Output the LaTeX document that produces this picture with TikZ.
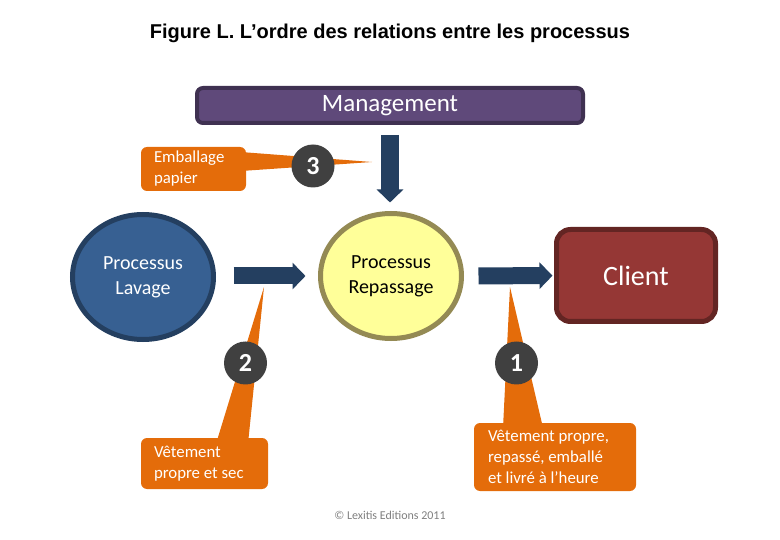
\documentclass[tikz,border=0pt]{standalone}
\usepackage{fontspec}
\setmainfont{Carlito}
\newfontfamily\titlefont{Liberation Sans}
\usetikzlibrary{shapes.geometric, arrows.meta, calc}

\definecolor{mgmtfill}{HTML}{5F497A}
\definecolor{mgmtline}{HTML}{3F3151}
\definecolor{lavfill}{HTML}{376092}
\definecolor{navy}{HTML}{243F60}
\definecolor{repfill}{HTML}{FFFF99}
\definecolor{repline}{HTML}{948A54}
\definecolor{clifill}{HTML}{953735}
\definecolor{cliline}{HTML}{632523}
\definecolor{orangecall}{HTML}{E46C0A}
\definecolor{numgray}{HTML}{404040}
\definecolor{footgray}{HTML}{7F7F7F}

\begin{document}
\begin{tikzpicture}[
    x=1pt, y=-1pt,
    proc/.style={ellipse, line width=5pt, minimum width=141pt, minimum height=125pt, align=center, font=\fontsize{20}{25}\selectfont},
    bubble/.style={rectangle, rounded corners=6pt, fill=orangecall, text=white, align=flush left, inner xsep=13pt, inner ysep=4pt, font=\fontsize{16.8}{21}\selectfont},
    num/.style={circle, fill=numgray, text=white, minimum size=43pt, inner sep=0pt, font=\bfseries\fontsize{26}{26}\selectfont},
    arrow/.style={-{Triangle[width=26pt, length=13pt]}, line width=17pt, navy},
    pointer/.style={fill=orangecall}
]
    \useasboundingbox (0,0) rectangle (780,540);
    \node[font=\titlefont\bfseries\fontsize{20}{24}\selectfont] (title) at (390,33) {Figure L. L’ordre des relations entre les processus};

    \node[rectangle, rounded corners=6pt, draw=mgmtline, line width=4pt, fill=mgmtfill, text=white, minimum width=386pt, minimum height=35pt, font=\fontsize{25}{30}\selectfont] (mgmt) at (390,105.5) {Management};
    \node[proc, draw=navy, fill=lavfill, text=white] (lavage) at (143,277) {Processus\\Lavage};
    \node[proc, draw=repline, fill=repfill, text=black] (repassage) at (391,276) {Processus\\Repassage};
    \node[rectangle, rounded corners=14pt, draw=cliline, line width=5pt, fill=clifill, text=white, minimum width=159pt, minimum height=92pt, font=\fontsize{28}{32}\selectfont] (client) at (636,275.5) {Client};

    \draw[arrow, line width=18pt, shorten <=10pt, shorten >=8.5pt] (mgmt.south) -- (mgmt.south |- repassage.north);
    \draw[arrow, shorten <=17.5pt, shorten >=12.5pt] (lavage.east |- repassage) -- (repassage);
    \draw[arrow, shorten <=14.5pt, shorten >=1.5pt] (repassage) -- (client);

    % callouts
    \node[bubble, text width=79pt, minimum height=44pt] (emb) at (193.5,169) {Emballage\\papier};
    \node[bubble, text width=101pt, minimum height=51pt] (sec) at (204.5,463.5) {Vêtement\\propre et sec};
    \node[bubble, inner xsep=14pt, text width=134pt, minimum height=68pt] (livre) at (555,457) {Vêtement propre,\\repassé, emballé\\et livré à l’heure};

    \coordinate (tipemb) at (372,162);
    \coordinate (tipsec) at (264,287);
    \coordinate (tiplivre) at (510,287);
    \fill[pointer] ($(emb.north east)+(-8,5)$) -- (tipemb) -- ($(emb.south east)+(-8,-20)$) -- cycle;
    \fill[pointer] ($(sec.north)+(11.5,6)$) -- (tipsec) -- ($(sec.north)+(43.5,6)$) -- cycle;
    \fill[pointer] ($(livre.north)+(-52,5)$) -- (tiplivre) -- ($(livre.north)+(-12,5)$) -- cycle;

    \node[num] (n3) at (313,166) {3};
    \node[num] (n2) at (245.5,363) {2};
    \node[num] (n1) at (516.5,363) {1};

    \node[text=footgray, font=\fontsize{12}{14}\selectfont] (copy) at (390,515) {© Lexitis Editions 2011};
\end{tikzpicture}
\end{document}
